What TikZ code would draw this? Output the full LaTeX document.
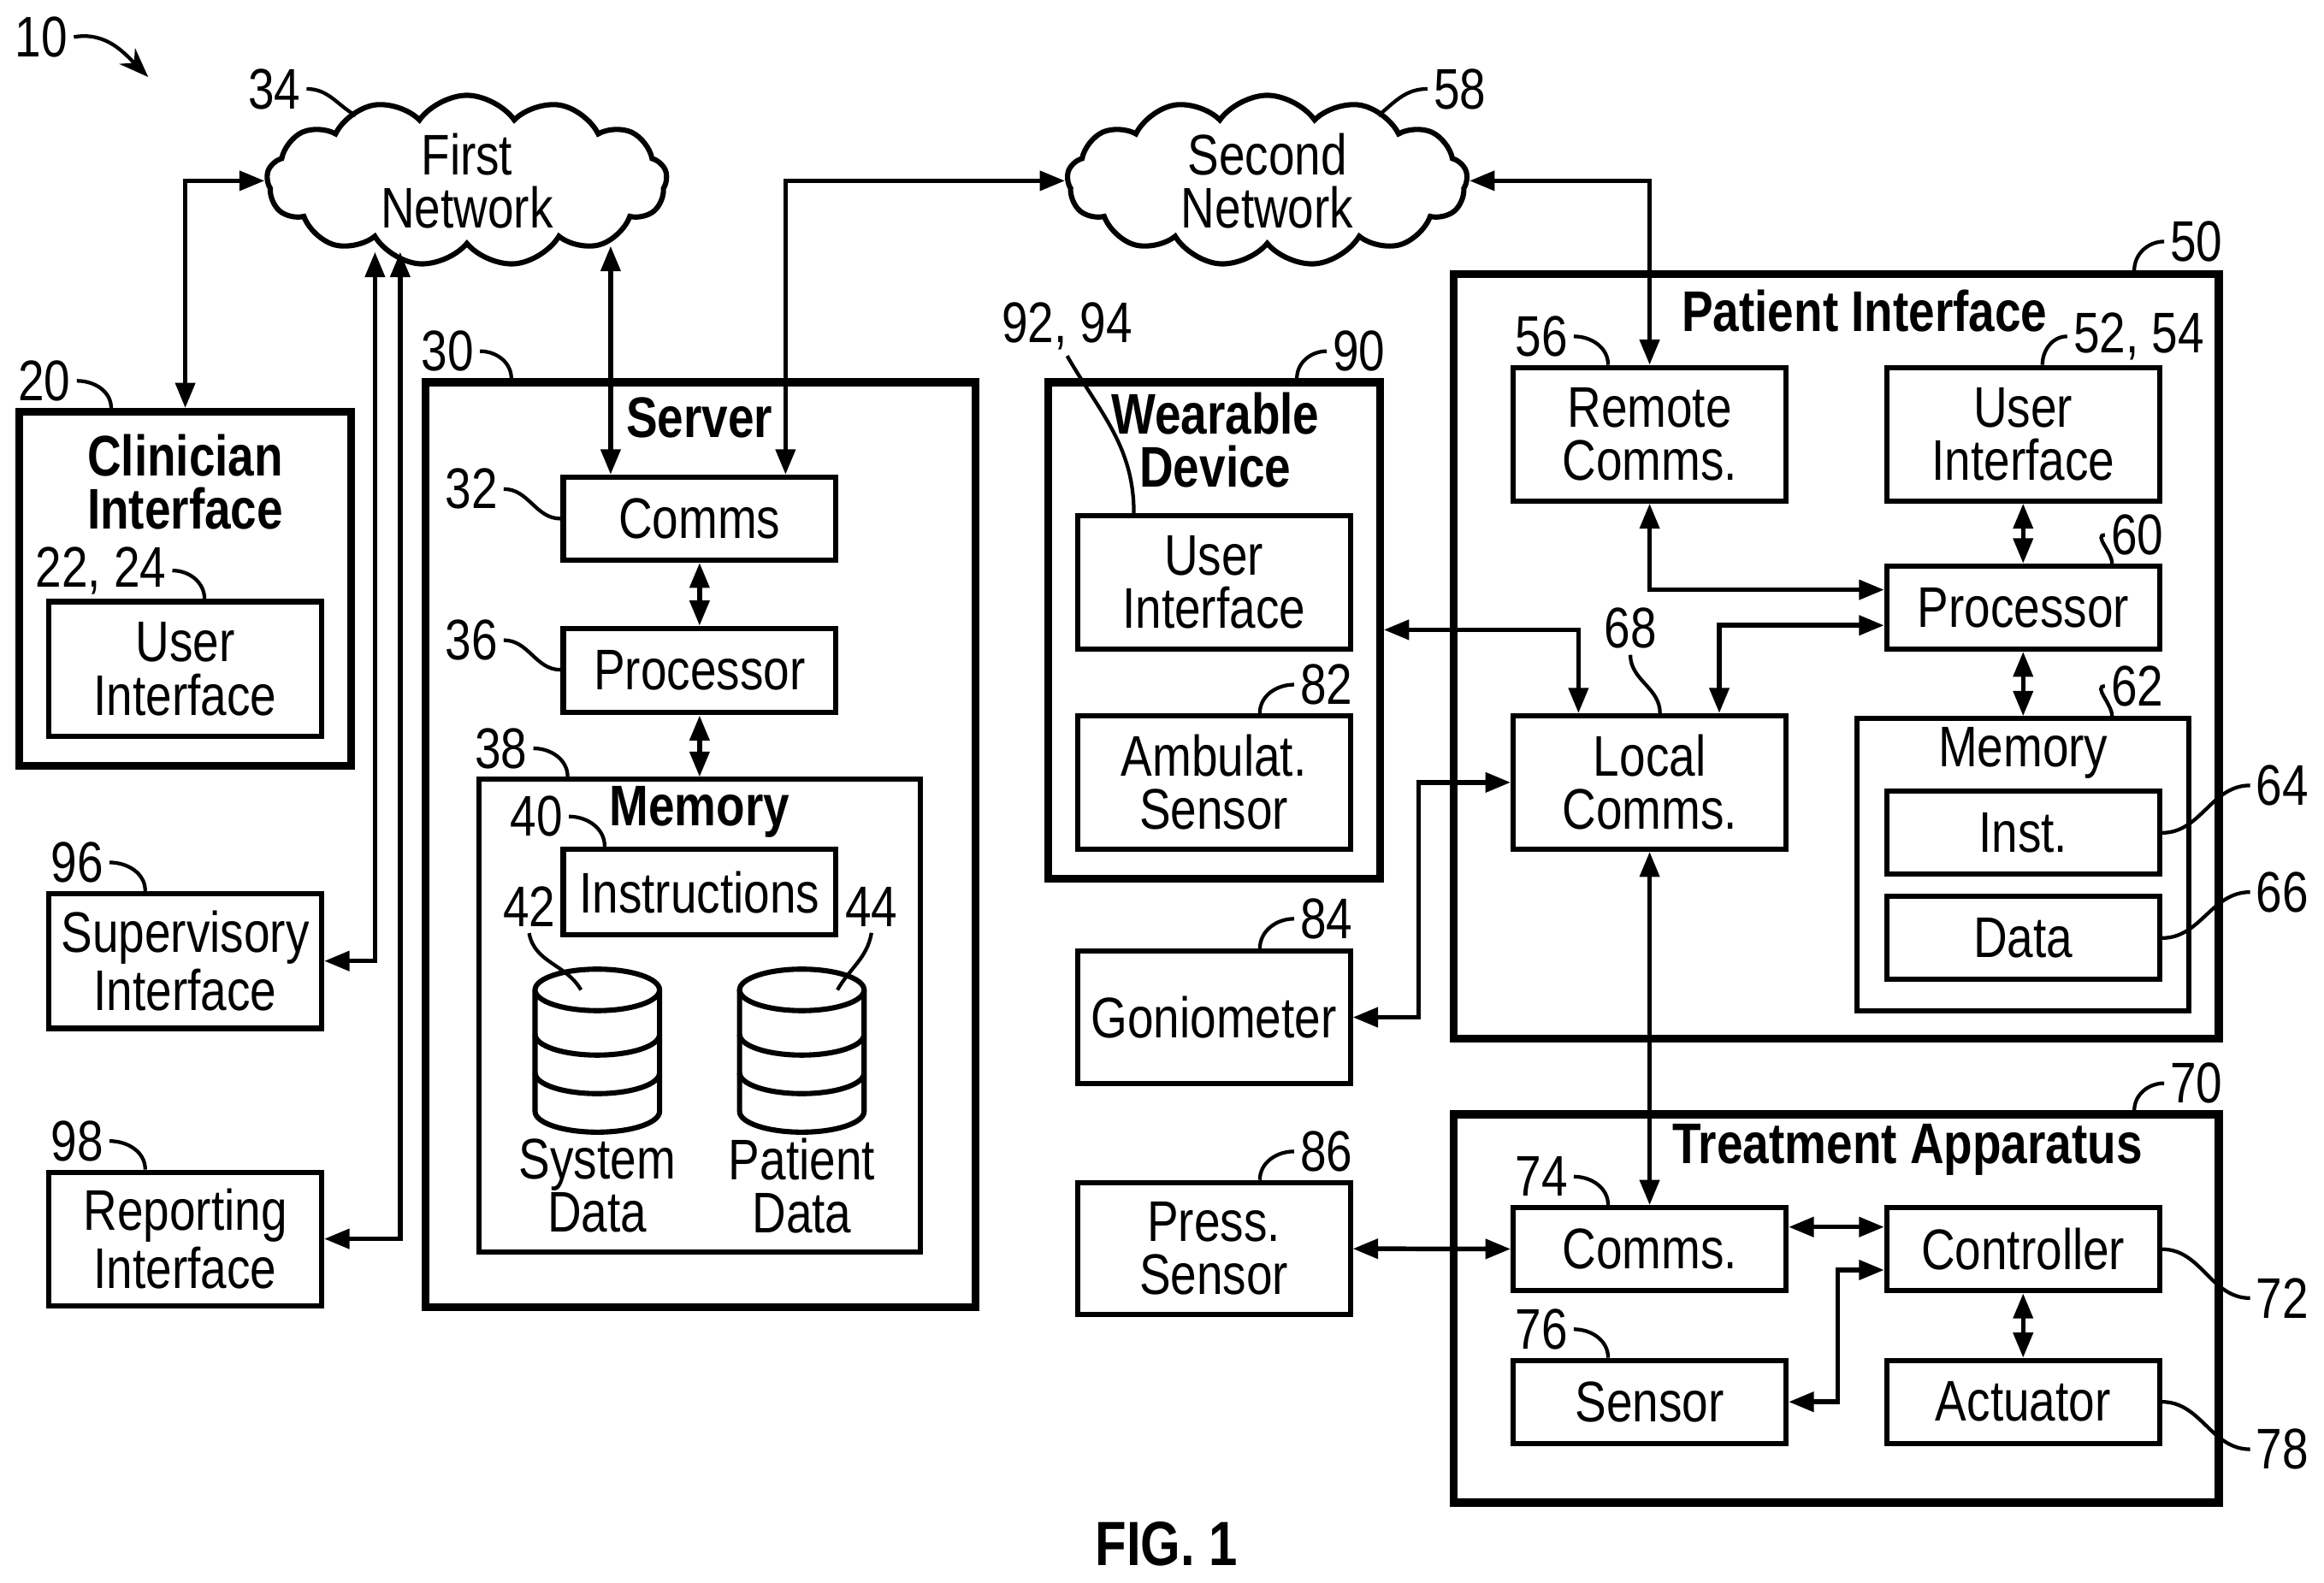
\documentclass[tikz,border=0pt]{standalone}
\usepackage{fontspec}
\setmainfont{Liberation Sans}[FakeStretch=0.82]
\usetikzlibrary{shapes.symbols,arrows.meta,calc}
\tikzset{
  box/.style={draw, line width=1pt, inner sep=0pt, minimum width=18.4mm, align=center, font=\fontsize{11}{10.2}\selectfont},
  outer/.style={draw, line width=1.5pt, inner sep=0pt},
  ttl/.style={font=\bfseries\fontsize{11}{10.2}\selectfont, align=center},
  num/.style={font=\fontsize{11}{12}\selectfont, inner sep=1pt},
  link/.style={line width=0.9pt, {Triangle[length=1.7mm,width=1.3mm]}-{Triangle[length=1.7mm,width=1.3mm]}},
  lead/.style={line width=0.7pt},
  net/.style={draw, line width=1pt, cloud, cloud puffs=13, cloud puff arc=110, aspect=2.4, minimum width=27mm, minimum height=11mm, align=center, font=\fontsize{11}{10.2}\selectfont, inner sep=0pt}
}
\newcommand{\disks}[1]{%
  \draw[line width=1pt, fill=white] ($(#1)+(-42,0)$) -- ($(#1)+(-42,82)$) arc[start angle=180,end angle=360,x radius=4.2mm,y radius=1.4mm] -- ($(#1)+(42,0)$);
  \draw[line width=1pt] ($(#1)+(-42,30)$) arc[start angle=180,end angle=360,x radius=4.2mm,y radius=1.4mm];
  \draw[line width=1pt] ($(#1)+(-42,56)$) arc[start angle=180,end angle=360,x radius=4.2mm,y radius=1.4mm];
  \draw[line width=1pt, fill=white] (#1) ellipse[x radius=4.2mm,y radius=1.4mm];}
\begin{document}
\begin{tikzpicture}[x=0.1mm,y=-0.1mm]
\useasboundingbox (0,0) rectangle (1568,1068);
% overall reference
\node[num] (n10) at (28,25) {10};
\draw[lead,-{Stealth[length=2mm]}] (n10.east) to[out=10,in=135] (100,52);

% networks
\node[net] (net1) at (315,122) {First\\Network};
\node[net] (net2) at (855,122) {Second\\Network};
\node[num] (n34) at (185,60) {34};
\draw[lead] (n34.east) to[out=0,in=150] (240,78);
\node[num] (n58) at (985,60) {58};
\draw[lead] (n58.west) to[out=180,in=40] (930,78);

% clinician side
\node[outer, minimum width=22.4mm, minimum height=23.9mm] (clin) at (125,397.5) {};
\node[ttl] at (125,325) {Clinician\\Interface};
\node[box, minimum height=9.1mm] (cui) at (125,451.5) {User\\Interface};
\node[box, minimum height=9.1mm] (sup) at (125,648.5) {Supervisory\\Interface};
\node[box, minimum height=9mm] (rep) at (125,836) {Reporting\\Interface};
\node[num] (n20) at (30,257) {20};
\draw[lead] (n20.east) to[out=0,in=90] (clin.north west -| 75,0);
\node[num] (n2224) at (68,385) {22, 24};
\draw[lead] (n2224.east) to[out=0,in=90] (cui.north -| 138,0);
\node[num] (n96) at (52,582) {96};
\draw[lead] (n96.east) to[out=0,in=90] (sup.north west -| 98,0);
\node[num] (n98) at (52,770) {98};
\draw[lead] (n98.east) to[out=0,in=90] (rep.north west -| 98,0);

% server
\node[outer, minimum width=37.1mm, minimum height=62.4mm] (server) at (472.5,570) {};
\node[ttl] at (472,282) {Server};
\node[box, minimum height=5.6mm] (scomms) at (472,350) {Comms};
\node[box, minimum height=5.7mm] (sproc) at (472,452.5) {Processor};
\node[draw, line width=1pt, minimum width=29.8mm, minimum height=31.9mm, inner sep=0pt] (smem) at (472,685.5) {};
\node[ttl] at (472,548) {Memory};
\node[box, minimum height=5.8mm] (instr) at (472,602) {Instructions};
\coordinate (sysd) at (403,668);
\coordinate (patd) at (541,668);
\disks{sysd}
\disks{patd}
\node[box, draw=none] at (403,800) {System\\Data};
\node[box, draw=none] at (541,800) {Patient\\Data};
\node[num] (n30) at (302,237) {30};
\draw[lead] (n30.east) to[out=0,in=90] (server.north west -| 345,0);
\node[num] (n32) at (318,330) {32};
\draw[lead] (n32.east) to[out=0,in=180] (scomms.west |- 0,350);
\node[num] (n36) at (318,432) {36};
\draw[lead] (n36.east) to[out=0,in=180] (sproc.west |- 0,452);
\node[num] (n38) at (338,505) {38};
\draw[lead] (n38.east) to[out=0,in=90] (smem.north -| 383,0);
\node[num] (n40) at (362,551) {40};
\draw[lead] (n40.east) to[out=0,in=90] (instr.north -| 408,0);
\node[num] (n42) at (357,612) {42};
\draw[lead] (n42.south) to[out=-80,in=120] (392,668);
\node[num] (n44) at (588,612) {44};
\draw[lead] (n44.south) to[out=-100,in=60] (565,668);

% wearable and sensors
\node[outer, minimum width=22.4mm, minimum height=33.5mm] (wear) at (819,425.5) {};
\node[ttl] at (820,297) {Wearable\\Device};
\node[box, minimum height=9mm] (wui) at (819,393) {User\\Interface};
\node[box, minimum height=9mm] (amb) at (819,528) {Ambulat.\\Sensor};
\node[box, minimum height=8.9mm] (gon) at (819,686.5) {Goniometer};
\node[box, minimum height=8.9mm] (press) at (819,842.5) {Press.\\Sensor};
\node[num] (n90) at (917,237) {90};
\draw[lead] (n90.west) to[out=180,in=90] (wear.north east -| 875,0);
\node[num] (n9294) at (720,220) {92, 94};
\draw[lead] (n9294.south) to[out=-60,in=90] (wui.north -| 765,0);
\node[num] (n82) at (895,462) {82};
\draw[lead] (n82.west) to[out=180,in=90] (amb.north -| 850,0);
\node[num] (n84) at (895,620) {84};
\draw[lead] (n84.west) to[out=180,in=90] (gon.north -| 850,0);
\node[num] (n86) at (895,777) {86};
\draw[lead] (n86.west) to[out=180,in=90] (press.north -| 850,0);

% patient interface
\node[outer, minimum width=51.6mm, minimum height=51.6mm] (pat) at (1239,443) {};
\node[ttl] at (1258,210) {Patient Interface};
\node[box, minimum height=9mm] (rem) at (1113,293) {Remote\\Comms.};
\node[box, minimum height=9mm] (pui) at (1365,293) {User\\Interface};
\node[box, minimum height=5.6mm] (pproc) at (1365,410) {Processor};
\node[draw, line width=1pt, minimum width=22.4mm, minimum height=19.7mm, inner sep=0pt] (pmem) at (1365,583.5) {};
\node[box, draw=none] at (1365,508) {Memory};
\node[box, minimum height=5.6mm] (inst) at (1365,562) {Inst.};
\node[box, minimum height=5.6mm] (data) at (1365,633) {Data};
\node[box, minimum height=9mm] (local) at (1113,528) {Local\\Comms.};
\node[num] (n50) at (1482,163) {50};
\draw[lead] (n50.west) to[out=180,in=90] (pat.north east -| 1440,0);
\node[num] (n56) at (1040,227) {56};
\draw[lead] (n56.east) to[out=0,in=90] (rem.north -| 1085,0);
\node[num] (n5254) at (1443,227) {52, 54};
\draw[lead] (n5254.west) to[out=180,in=90] (pui.north -| 1378,0);
\node[num] (n60) at (1442,361) {60};
\draw[lead] (n60.west) to[out=180,in=90] (pproc.north -| 1425,0);
\node[num] (n62) at (1442,463) {62};
\draw[lead] (n62.west) to[out=180,in=90] (pmem.north -| 1425,0);
\node[num] (n64) at (1540,530) {64};
\draw[lead] (inst.east) to[out=0,in=180] (n64.west);
\node[num] (n66) at (1540,602) {66};
\draw[lead] (data.east) to[out=0,in=180] (n66.west);
\node[num] (n68) at (1100,424) {68};
\draw[lead] (n68.south) to[out=-90,in=90] (local.north -| 1120,0);

% treatment apparatus
\node[outer, minimum width=51.6mm, minimum height=26.2mm] (treat) at (1239,883) {};
\node[ttl] at (1287,776) {Treatment Apparatus};
\node[box, minimum height=5.6mm] (tcomms) at (1113,843) {Comms.};
\node[box, minimum height=5.6mm] (ctrl) at (1365,843) {Controller};
\node[box, minimum height=5.6mm] (tsens) at (1113,946) {Sensor};
\node[box, minimum height=5.6mm] (act) at (1365,946) {Actuator};
\node[num] (n70) at (1482,731) {70};
\draw[lead] (n70.west) to[out=180,in=90] (treat.north east -| 1440,0);
\node[num] (n74) at (1040,794) {74};
\draw[lead] (n74.east) to[out=0,in=90] (tcomms.north -| 1085,0);
\node[num] (n76) at (1040,897) {76};
\draw[lead] (n76.east) to[out=0,in=90] (tsens.north -| 1085,0);
\node[num] (n72) at (1540,876) {72};
\draw[lead] (ctrl.east) to[out=0,in=180] (n72.west);
\node[num] (n78) at (1540,978) {78};
\draw[lead] (act.east) to[out=0,in=180] (n78.west);

\node[font=\bfseries\fontsize{12}{13}\selectfont] (fig) at (787,1042) {FIG. 1};

% connectors
\coordinate (n1a) at (253,170);
\coordinate (n1b) at (270,170);
\coordinate (n1c) at (412,166);
\draw[link] (clin.north) |- (net1.west);
\draw[link] (sup.east) -| (n1a);
\draw[link] (rep.east) -| (n1b);
\draw[link] (scomms.north -| n1c) -- (n1c);
\draw[link] (scomms.north -| 530,0) |- (net2.west);
\draw[link] (net2.east) -| (rem.north);
\draw[link] (scomms) -- (sproc);
\draw[link] (sproc) -- (smem);
\draw[link] (rem.south) |- (pproc.west |- 0,398);
\draw[link] (pui) -- (pproc);
\draw[link] (pproc) -- (pmem);
\draw[link] (pproc.west |- 0,422) -| (local.north -| 1160,0);
\draw[link] (wear.east |- 0,425) -| (local.north -| 1065,0);
\draw[link] (gon.east) -- (957,686.5) |- (local.west);
\draw[link] (local) -- (tcomms);
\draw[link] (press) -- (tcomms);
\draw[link] (tcomms.east |- 0,828) -- (ctrl.west |- 0,828);
\draw[link] (ctrl.west |- 0,857) -- (1240,857) |- (tsens.east);
\draw[link] (ctrl) -- (act);
\end{tikzpicture}
\end{document}
